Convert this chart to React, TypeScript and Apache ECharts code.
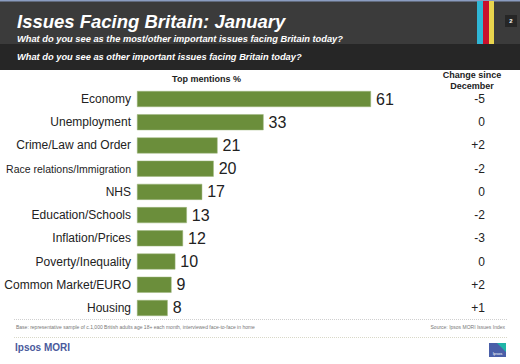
import React, { useEffect, useRef } from "react";
import * as echarts from "echarts";

const categories = [
  "Economy",
  "Unemployment",
  "Crime/Law and Order",
  "Race relations/Immigration",
  "NHS",
  "Education/Schools",
  "Inflation/Prices",
  "Poverty/Inequality",
  "Common Market/EURO",
  "Housing",
];
const topMentions = [61, 33, 21, 20, 17, 13, 12, 10, 9, 8];
const changeSinceDecember = ["-5", "0", "+2", "-2", "0", "-2", "-3", "0", "+2", "+1"];

const FONT = "'Liberation Sans', Arial, sans-serif";

export default function App() {
  const ref = useRef<HTMLDivElement>(null);
  useEffect(() => {
    if (!ref.current) return;
    const chart = echarts.init(ref.current, undefined, { renderer: "svg" });
    const cats = [...categories].reverse();
    const vals = [...topMentions].reverse();
    const chg = [...changeSinceDecember].reverse();
    chart.setOption({
      animation: false,
      backgroundColor: "#ffffff",
      textStyle: { fontFamily: FONT },
      grid: { left: 137, top: 87.4, width: 268.5, height: 232.2, containLabel: false },
      xAxis: {
        type: "value",
        min: 0,
        max: 70,
        show: false,
      },
      yAxis: [
        {
          type: "category",
          data: cats,
          axisLine: { show: false },
          axisTick: { show: false },
          axisLabel: {
            margin: 6,
            color: "#222222",
            fontSize: 12,
            fontFamily: FONT,
            formatter: (v: string) =>
              v.length > 22 ? "{s|" + v + "}" : v,
            rich: { s: { fontSize: 10.5, color: "#222222", fontFamily: FONT } },
          },
        },
        {
          type: "category",
          position: "right",
          data: chg,
          axisLine: { show: false },
          axisTick: { show: false },
          axisLabel: {
            margin: 79.5,
            align: "right",
            color: "#222222",
            fontSize: 12,
            fontFamily: FONT,
          },
        },
      ],
      series: [
        {
          type: "bar",
          data: vals,
          barWidth: 16,
          itemStyle: { color: "#6b8e3b", borderColor: "#9fb77e", borderWidth: 0.5 },
          label: {
            show: true,
            position: "right",
            distance: 5,
            color: "#222222",
            fontSize: 16,
            fontFamily: FONT,
          },
        },
      ],
      graphic: [
        { type: "rect", shape: { x: 0, y: 0, width: 520, height: 44 }, style: { fill: "#3b3b3b" } },
        { type: "rect", shape: { x: 0, y: 0, width: 520, height: 1.5 }, style: { fill: "#8a9cc0" } },
        { type: "rect", shape: { x: 0, y: 44, width: 520, height: 26 }, style: { fill: "#262626" } },
        { type: "rect", shape: { x: 477, y: 1, width: 6, height: 43 }, style: { fill: "#2fb6d6" } },
        { type: "rect", shape: { x: 483, y: 1, width: 6, height: 43 }, style: { fill: "#c8102e" } },
        { type: "rect", shape: { x: 489, y: 1, width: 5, height: 43 }, style: { fill: "#e8d44d" } },
        { type: "rect", shape: { x: 505, y: 15, width: 12, height: 12 }, style: { fill: "#262626" } },
        {
          type: "text",
          x: 511,
          y: 21,
          style: { text: "2", fill: "#ffffff", fontSize: 6, fontWeight: "bold", fontFamily: FONT, align: "center", verticalAlign: "middle" },
        },
        {
          type: "text",
          x: 17,
          y: 21,
          style: {
            text: "Issues Facing Britain: January",
            fill: "#ffffff",
            fontSize: 18.5,
            fontWeight: 900,
            fontStyle: "italic",
            fontFamily: FONT,
            verticalAlign: "middle",
          },
        },
        {
          type: "text",
          x: 17,
          y: 39,
          style: {
            text: "What do you see as the most/other important issues facing Britain today?",
            fill: "#ffffff",
            fontSize: 9.3,
            fontWeight: "bold",
            fontStyle: "italic",
            fontFamily: FONT,
            verticalAlign: "middle",
          },
        },
        {
          type: "text",
          x: 17,
          y: 57,
          style: {
            text: "What do you see as other important issues facing Britain today?",
            fill: "#ffffff",
            fontSize: 9.3,
            fontWeight: "bold",
            fontStyle: "italic",
            fontFamily: FONT,
            verticalAlign: "middle",
          },
        },
        {
          type: "text",
          x: 206.5,
          y: 79,
          style: { text: "Top mentions %", fill: "#222222", fontSize: 9, fontWeight: "bold", fontFamily: FONT, align: "center", verticalAlign: "middle" },
        },
        {
          type: "text",
          x: 472,
          y: 75,
          style: { text: "Change since", fill: "#222222", fontSize: 9, fontWeight: "bold", fontFamily: FONT, align: "center", verticalAlign: "middle" },
        },
        {
          type: "text",
          x: 472,
          y: 86,
          style: { text: "December", fill: "#222222", fontSize: 9, fontWeight: "bold", fontFamily: FONT, align: "center", verticalAlign: "middle" },
        },
        {
          type: "line",
          shape: { x1: 14, y1: 319.5, x2: 507, y2: 319.5 },
          style: { stroke: "#cfcfcf", lineWidth: 1, lineDash: [1, 1] },
        },
        {
          type: "text",
          x: 16,
          y: 327,
          style: {
            text: "Base: representative sample of c.1,000 British adults age 18+ each month, interviewed face-to-face in home",
            fill: "#777777",
            fontSize: 5,
            fontFamily: FONT,
            verticalAlign: "middle",
          },
        },
        {
          type: "text",
          x: 505,
          y: 327,
          style: { text: "Source: Ipsos MORI Issues Index", fill: "#777777", fontSize: 5, fontFamily: FONT, align: "right", verticalAlign: "middle" },
        },
        {
          type: "line",
          shape: { x1: 14, y1: 337.5, x2: 507, y2: 337.5 },
          style: { stroke: "#d8d8c8", lineWidth: 1, lineDash: [1, 1] },
        },
        {
          type: "text",
          x: 15,
          y: 347,
          style: { text: "Ipsos MORI", fill: "#4a5a9c", fontSize: 10, fontWeight: "bold", fontFamily: FONT, verticalAlign: "middle" },
        },
        { type: "rect", shape: { x: 489, y: 343, width: 17, height: 14 }, style: { fill: "#4a5fa8" } },
        { type: "polygon", shape: { points: [[497, 343], [506, 343], [506, 352]] }, style: { fill: "#20b5a8" } },
        {
          type: "text",
          x: 497.5,
          y: 353,
          style: { text: "Ipsos", fill: "#ffffff", fontSize: 4, fontFamily: FONT, align: "center", verticalAlign: "middle" },
        },
      ],
    });
    return () => chart.dispose();
  }, []);
  return (
    <div
      ref={ref}
      style={{ position: "fixed", left: 0, top: 0, width: 520, height: 364 }}
    />
  );
}
